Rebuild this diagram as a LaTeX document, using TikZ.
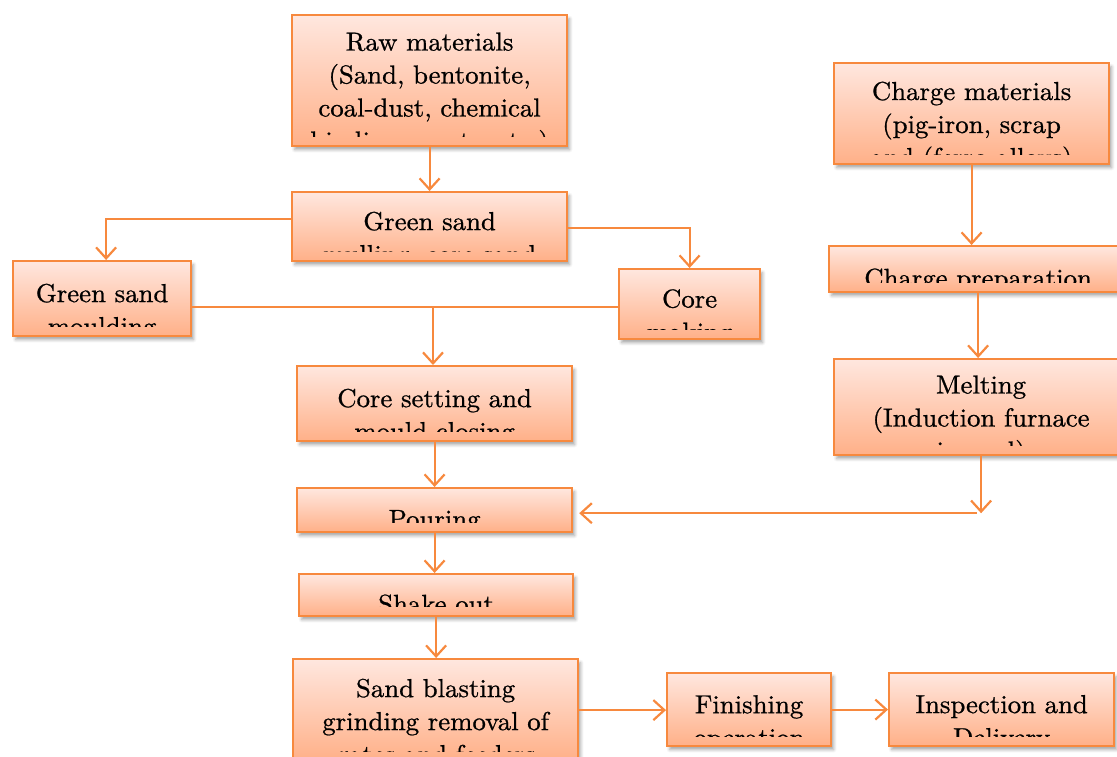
\documentclass[tikz,border=0pt]{standalone}
\usepackage{fontspec}
\usepackage{tikz}
\usetikzlibrary{calc, positioning, arrows.meta, shadows.blur}
\newfontfamily\stagefont{lmroman10-regular.otf}[FakeStretch=1.03, FakeBold=0.8]
\definecolor{StageOrange}{RGB}{247, 137, 62}
\definecolor{StageTop}{RGB}{255, 231, 223}
\definecolor{StageBottom}{RGB}{255, 176, 136}

\tikzset{
  stagetext/.style={font=\stagefont\fontsize{26}{33}\selectfont, text width=330pt,
    align=center, inner sep=0pt, anchor=north},
  stage/.style n args={2}{draw=StageOrange, line width=2.2pt, anchor=north west,
    top color=StageTop, bottom color=StageBottom, inner sep=0pt,
    blur shadow={shadow xshift=2.5pt, shadow yshift=-3.5pt, shadow blur radius=3pt, shadow opacity=35},
    path picture={
      \clip ([yshift=10pt]path picture bounding box.south west) rectangle (path picture bounding box.north east);
      \node[stagetext] (#1) at ([yshift=-10pt]path picture bounding box.north) {\strut #2};
    }},
  flow/.style={StageOrange, line width=2.2pt, -{Straight Barb[length=11pt, width=20pt, line width=2.2pt]}},
  link/.style={StageOrange, line width=2.2pt}
}

\begin{document}
\begin{tikzpicture}[x=1pt, y=-1pt]
    \useasboundingbox (0,0) rectangle (1117,756);

    % Sand side
    \node[stage={raw-text}{Raw materials\\(Sand, bentonite,\\coal-dust, chemical\\binding agents, etc.)},
      minimum width=275pt, minimum height=131pt] (raw) at (291,14) {};
    \node[stage={mull-text}{Green sand\\mulling, core sand},
      minimum width=275pt, minimum height=69pt] (mull) at (291,191) {};
    \node[stage={mould-text}{Green sand\\moulding},
      minimum width=178pt, minimum height=75pt] (mould) at (12,260) {};
    \node[stage={core-text}{Core\\making},
      minimum width=141pt, minimum height=70pt] (core) at (618,268) {};
    \node[stage={coreset-text}{Core setting and\\mould closing},
      minimum width=275pt, minimum height=75pt] (coreset) at (296,365) {};

    % Metal side
    \node[stage={charge-text}{Charge materials\\(pig-iron, scrap\\and (ferro-alloys)},
      minimum width=275pt, minimum height=101pt] (charge) at (833,62) {};
    \node[stage={prep-text}{Charge preparation},
      minimum width=298pt, minimum height=46pt] (prep) at (828,245) {};
    \node[stage={melt-text}{Melting\\(Induction furnace\\is used)},
      minimum width=294pt, minimum height=96pt] (melt) at (833,358) {};

    % Casting line
    \node[stage={pour-text}{Pouring},
      minimum width=275pt, minimum height=44pt] (pour) at (296,487) {};
    \node[stage={shake-text}{Shake out},
      minimum width=274pt, minimum height=42pt] (shake) at (298,573) {};
    \node[stage={blast-text}{Sand blasting\\grinding removal of\\gates and feeders},
      minimum width=285pt, minimum height=102pt] (blast) at (292,658) {};
    \node[stage={finish-text}{Finishing\\operation},
      minimum width=164pt, minimum height=73pt] (finish) at (666,672) {};
    \node[stage={inspect-text}{Inspection and\\Delivery},
      minimum width=225pt, minimum height=73pt] (inspect) at (888,672) {};

    % Connectors
    \coordinate (join) at (433,307);
    \draw[flow] (raw.south) -- (mull.north);
    \draw[flow] ([yshift=7.5pt]mull.west) -| ([xshift=4pt]mould.north);
    \draw[flow] ([yshift=-1.5pt]mull.east) -| (core.north);
    \draw[link] (mould.east |- join) -- (core.west |- join);
    \draw[flow] (join) -- (join |- coreset.north);
    \draw[flow] (coreset.south) -- (coreset.south |- pour.north);
    \draw[flow] (charge.south) -- (charge.south |- prep.north);
    \draw[flow] (prep.south) -- (prep.south |- melt.north);
    \draw[flow] (melt.south) -- ++(0,57) coordinate (feed);
    \draw[flow] ([xshift=-4pt]feed) -- ([xshift=6pt]pour.east |- feed);
    \draw[flow] (pour.south) -- (pour.south |- shake.north);
    \draw[flow] (shake.south) -- (shake.south |- blast.north);
    \draw[flow] (blast.east) -- (finish.west |- blast.east);
    \draw[flow] (finish.east) -- (inspect.west);
\end{tikzpicture}
\end{document}
